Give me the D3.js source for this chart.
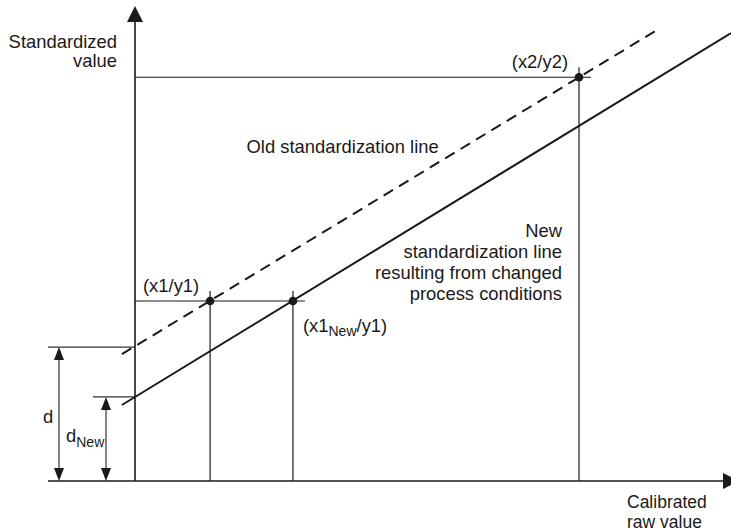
<!DOCTYPE html>
<html>
<head>
<meta charset="utf-8">
<script src="https://cdn.jsdelivr.net/npm/d3@7"></script>
<style>
  html, body { margin: 0; padding: 0; background: #fff; }
  svg { display: block; }
  text { font-family: "Liberation Sans", Arial, Helvetica, sans-serif; fill: #1a1a1a; }
</style>
</head>
<body>
<div id="chart"></div>
<script>
// ---- data (chart units) ----
const xDomain = [0, 100];
const yDomain = [0, 100];
const oldLineX = [-2.2, 87.4];
const oldLineY = [26.7, 94.8];
const newLineX = [-2.2, 100];
const newLineY = [16.0, 94.3];
const pointNames = ["x1", "x1New", "x2"];
const pointX = [12.6, 26.5, 74.5];
const pointY = [37.9, 37.9, 85.0];
const offsetNames = ["d", "dNew"];
const offsetValues = [28.2, 17.7];
const axisTitles = [["Standardized", "value"], ["Calibrated", "raw value"]];
const oldLabel = "Old standardization line";
const newLabel = ["New", "standardization line", "resulting from changed", "process conditions"];

const W = 731, H = 531;
const svg = d3.select("#chart").append("svg").attr("width", W).attr("height", H);

const x = d3.scaleLinear().domain(xDomain).range([135, 731]);
const y = d3.scaleLinear().domain(yDomain).range([481, 6]);

const ink = "#1a1a1a";

// guide lines (thin)
const g = svg.append("g").attr("stroke", ink).attr("stroke-width", 1.2).attr("fill", "none");
g.append("line").attr("x1", x(0)).attr("x2", x(pointX[2]) + 12).attr("y1", y(pointY[2])).attr("y2", y(pointY[2]));
g.append("line").attr("x1", x(0)).attr("x2", x(pointX[1]) + 12).attr("y1", y(pointY[0])).attr("y2", y(pointY[0]));
pointX.forEach((px, i) => {
  g.append("line").attr("x1", x(px)).attr("x2", x(px)).attr("y1", y(pointY[i]) - 10).attr("y2", y(0));
});

// offset dimension lines
const dimX = [x(0) - 76, x(0) - 29];
const dimLeft = [x(0) - 87, x(0) - 42];
const dg = svg.append("g").attr("stroke", "#333").attr("stroke-width", 1.2);
offsetValues.forEach((v, i) => {
  dg.append("line").attr("x1", dimLeft[i]).attr("x2", x(0)).attr("y1", y(v)).attr("y2", y(v));
  dg.append("line").attr("x1", dimX[i]).attr("x2", dimX[i]).attr("y1", y(v) + 10).attr("y2", y(0) - 10);
  svg.append("path").attr("fill", ink)
    .attr("d", `M${dimX[i]},${y(v)} L${dimX[i] - 5},${y(v) + 13} L${dimX[i] + 5},${y(v) + 13} Z`);
  svg.append("path").attr("fill", ink)
    .attr("d", `M${dimX[i]},${y(0)} L${dimX[i] - 5},${y(0) - 13} L${dimX[i] + 5},${y(0) - 13} Z`);
});

// axes
const ax = svg.append("g").attr("stroke", ink).attr("stroke-width", 1.6);
ax.append("line").attr("x1", x(0) - 87).attr("x2", 735).attr("y1", y(0)).attr("y2", y(0));
ax.append("line").attr("x1", x(0)).attr("x2", x(0)).attr("y1", y(0)).attr("y2", 18);
svg.append("path").attr("fill", ink).attr("d", `M${x(0)},6 L${x(0) - 8},22 L${x(0) + 8},22 Z`);
svg.append("path").attr("fill", ink).attr("d", `M739,${y(0)} L723,${y(0) - 8} L723,${y(0) + 8} Z`);

// standardization lines
const lineGen = d3.line().x(d => x(d[0])).y(d => y(d[1]));
svg.append("path").datum(oldLineX.map((v, i) => [v, oldLineY[i]]))
  .attr("d", lineGen).attr("fill", "none").attr("stroke", ink).attr("stroke-width", 2)
  .attr("stroke-dasharray", "11,7");
svg.append("path").datum(newLineX.map((v, i) => [v, newLineY[i]]))
  .attr("d", lineGen).attr("fill", "none").attr("stroke", ink).attr("stroke-width", 2);

// points
svg.selectAll("circle.pt").data(pointX).enter().append("circle")
  .attr("cx", d => x(d)).attr("cy", (d, i) => y(pointY[i])).attr("r", 4.3).attr("fill", ink);

// texts
const fs = 18.4;
const t1 = svg.append("text").attr("text-anchor", "end").attr("font-size", fs);
t1.append("tspan").attr("x", 117).attr("y", 48).text(axisTitles[0][0]);
t1.append("tspan").attr("x", 117).attr("y", 67).text(axisTitles[0][1]);
svg.append("text").attr("x", 627).attr("y", 508).attr("font-size", 17.5).text(axisTitles[1][0]);
svg.append("text").attr("x", 627).attr("y", 527.5).attr("font-size", 17.5).text(axisTitles[1][1]);

svg.append("text").attr("x", 246.5).attr("y", 153).attr("font-size", fs).text(oldLabel);
const nl = svg.append("text").attr("text-anchor", "end").attr("font-size", fs);
newLabel.forEach((s, i) => nl.append("tspan").attr("x", 562).attr("y", 237 + i * 21).text(s));

svg.append("text").attr("x", x(pointX[2]) - 11).attr("y", y(pointY[2]) - 9)
  .attr("text-anchor", "end").attr("font-size", fs).text("(x2/y2)");
svg.append("text").attr("x", 143).attr("y", y(pointY[0]) - 9).attr("font-size", fs).text("(x1/y1)");
const p2 = svg.append("text").attr("x", x(pointX[1]) + 10).attr("y", y(pointY[1]) + 31).attr("font-size", fs);
p2.append("tspan").text("(x1");
p2.append("tspan").attr("font-size", 14).attr("dy", 4).text("New");
p2.append("tspan").attr("dy", -4).text("/y1)");

svg.append("text").attr("x", 43).attr("y", 423).attr("font-size", fs).text(offsetNames[0]);
const dn = svg.append("text").attr("x", 66).attr("y", 442).attr("font-size", fs);
dn.append("tspan").text("d");
dn.append("tspan").attr("font-size", 14).attr("dy", 5).text("New");
</script>
</body>
</html>
